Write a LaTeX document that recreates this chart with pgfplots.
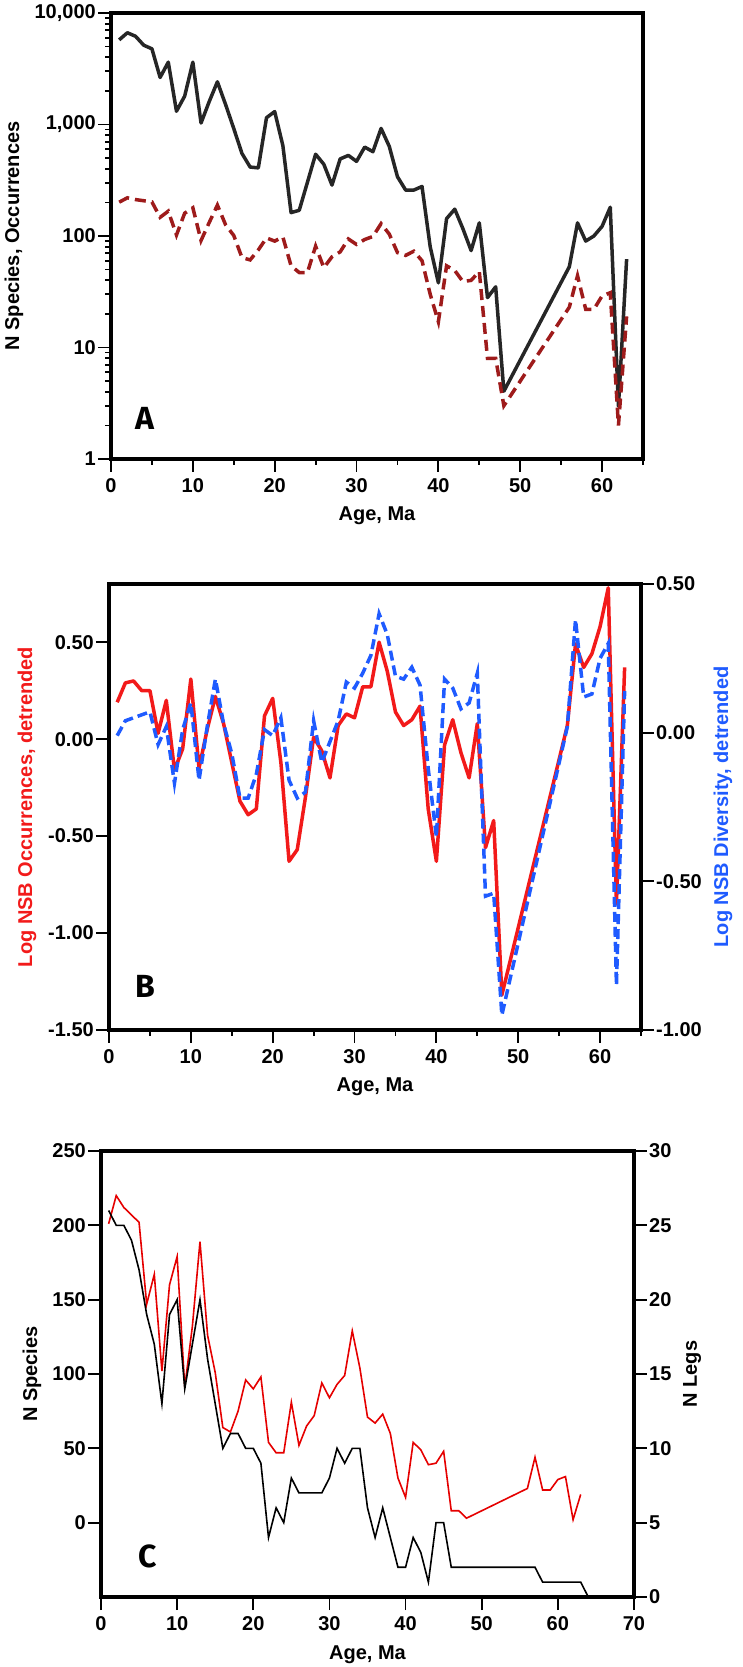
\documentclass[border=0pt]{standalone}
\usepackage{fontspec}
\setmainfont{Liberation Sans}
\newfontfamily\letterfont{Fira Sans}
\usepackage{pgfplots}
\usepackage{pgfplotstable}
\pgfplotsset{compat=1.18}
\definecolor{darkred}{HTML}{9E1B1B}
\definecolor{occred}{HTML}{F21A1A}
\definecolor{divblue}{HTML}{1F5BFF}
\definecolor{lineblack}{HTML}{262626}

\pgfplotstableread{
x y
1 5740
2 6650
3 6180
4 5140
5 4770
6 2640
7 3620
8 1315
9 1795
10 3620
11 1030
12 1605
13 2415
14 1510
15 920
16 550
17 415
18 408
19 1150
20 1305
21 646
22 162
23 170
24 303
25 541
26 440
27 286
28 491
29 528
30 467
31 627
32 570
33 922
34 636
35 340
36 258
37 258
38 278
39 80
40 38
41 143
42 174
43 116
44 74
45 131
46 28
47 35
48 4.05
56 53
57 131
58 90
59 100
60 122
61 181
62 2.97
63 62
}\occ

\pgfplotstableread{
x y
1 201
2 220
3 212
4 207
5 202
6 147
7 167
8 102
9 160
10 179
11 91
12 132
13 189
14 126
15 101
16 64
17 61
18 75
19 96
20 90
21 98
22 54
23 47
24 47
25 81
26 52
27 65
28 72
29 94
30 84
31 93
32 99
33 129
34 104
35 71
36 67
37 73
38 60
39 30
40 17
41 54
42 49
43 39
44 40
45 48
46 8
47 8
48 3
56 23
57 44
58 22
59 22
60 29
61 31
62 2
63 19
}\species

\pgfplotstableread{
x y
1 0.19
2 0.29
3 0.30
4 0.25
5 0.25
6 0.03
7 0.20
8 -0.16
9 -0.05
10 0.31
11 -0.15
12 0.05
13 0.22
14 0.08
15 -0.12
16 -0.32
17 -0.39
18 -0.36
19 0.12
20 0.21
21 -0.12
22 -0.63
23 -0.57
24 -0.30
25 0.01
26 -0.06
27 -0.20
28 0.07
29 0.13
30 0.11
31 0.27
32 0.27
33 0.50
34 0.35
35 0.14
36 0.07
37 0.10
38 0.17
39 -0.36
40 -0.63
41 -0.03
42 0.10
43 -0.07
44 -0.20
45 0.08
46 -0.56
47 -0.42
48 -1.32
56 0.07
57 0.49
58 0.37
59 0.44
60 0.58
61 0.78
62 -0.85
63 0.37
}\detocc

\pgfplotstableread{
x y
1 -0.01
2 0.04
3 0.05
4 0.06
5 0.07
6 -0.04
7 0.02
8 -0.17
9 0.01
10 0.10
11 -0.16
12 0.02
13 0.18
14 0.03
15 -0.07
16 -0.22
17 -0.22
18 -0.14
19 0.01
20 -0.01
21 0.05
22 -0.16
23 -0.22
24 -0.20
25 0.04
26 -0.10
27 -0.03
28 0.04
29 0.17
30 0.15
31 0.20
32 0.26
33 0.40
34 0.33
35 0.19
36 0.18
37 0.22
38 0.16
39 -0.12
40 -0.35
41 0.18
42 0.15
43 0.08
44 0.10
45 0.20
46 -0.55
47 -0.54
48 -0.95
56 0.02
57 0.38
58 0.12
59 0.13
60 0.25
61 0.30
62 -0.85
63 0.14
}\detdiv

\pgfplotstableread{
x y
1 26
2 25
3 25
4 24
5 22
6 19
7 17
8 13
9 19
10 20
11 14
12 17
13 20
14 16
15 13
16 10
17 11
18 11
19 10
20 10
21 9
22 4
23 6
24 5
25 8
26 7
27 7
28 7
29 7
30 8
31 10
32 9
33 10
34 10
35 6
36 4
37 6
38 4
39 2
40 2
41 4
42 3
43 1
44 5
45 5
46 2
47 2
57 2
58 1
63 1
64 0
}\legs

\tikzset{letter/.style={font=\letterfont\bfseries\fontsize{32}{34}\selectfont}}
\pgfplotsset{
  base/.style={
    scale only axis, width=532pt, height=446pt,
    axis line style={line width=4pt},
    every tick/.style={black, line width=1.8pt},
    major tick length=13pt, minor tick length=6pt,
    tick align=outside,
    tick label style={font=\fontsize{20}{24}\selectfont\bfseries},
    label style={font=\fontsize{20}{24}\selectfont\bfseries},
    xlabel style={at={([yshift=-62pt]axis description cs:0.5,0)}, anchor=base},
    xticklabel style={inner sep=1pt, yshift=-5pt},
    yticklabel style={inner sep=2pt},
  },
}

\begin{document}
\begin{tikzpicture}
\useasboundingbox (0,0) rectangle (742pt,1667pt);

% ---------------- Panel A
\begin{axis}[base, at={(111pt,1208pt)}, anchor=south west,
  xmin=0, xmax=65, ymode=log, ymin=1, ymax=10000,
  xtick={0,10,...,60}, xticklabels={0,10,20,30,40,50,60},
  minor xtick={5,15,...,65},
  ytick={1,10,100,1000,10000}, yticklabels={1,10,100,{1,000},{10,000}},
  minor ytick={2,3,4,5,6,7,8,9,20,30,40,50,60,70,80,90,200,300,400,500,600,700,800,900,2000,3000,4000,5000,6000,7000,8000,9000},
  xtick pos=bottom, ytick pos=left,
  xlabel={Age, Ma},
  ylabel={N Species, Occurrences},
  ylabel style={at={([xshift=-97pt]axis description cs:0,0.5)}, anchor=center},
]
\addplot[lineblack, line width=3.5pt, line join=round] table[x=x,y=y]{\occ};
\addplot[darkred, line width=3.5pt, dash pattern=on 11pt off 6pt] table[x=x,y=y]{\species};
\node[letter] at (rel axis cs:0.064,0.09) {A};
\end{axis}

% ---------------- Panel B
\begin{axis}[base, at={(109pt,637pt)}, anchor=south west,
  xmin=0, xmax=65, ymin=-1.5, ymax=0.8,
  xtick={0,10,...,60}, xticklabels={0,10,20,30,40,50,60},
  minor xtick={5,15,...,65},
  ytick={-1.5,-1,-0.5,0,0.5}, yticklabels={-1.50,-1.00,-0.50,0.00,0.50},
  xtick pos=bottom, ytick pos=left,
  xlabel={Age, Ma},
  ylabel={Log NSB Occurrences, detrended},
  ylabel style={at={([xshift=-82pt]axis description cs:0,0.5)}, anchor=center, text=occred},
]
\addplot[occred, line width=3.5pt, line join=round] table[x=x,y=y]{\detocc};
\node[letter] at (rel axis cs:0.068,0.098) {B};
\end{axis}
\begin{axis}[base, at={(109pt,637pt)}, anchor=south west,
  xmin=0, xmax=65, ymin=-1, ymax=0.5,
  axis y line*=right, axis x line=none,
  ytick={-1,-0.5,0,0.5}, yticklabels={-1.00,-0.50,0.00,0.50},
  ylabel={Log NSB Diversity, detrended},
  ylabel style={at={([xshift=82pt]axis description cs:1,0.5)}, anchor=center, text=divblue},
]
\addplot[divblue, line width=3.5pt, dash pattern=on 10pt off 5pt] table[x=x,y=y]{\detdiv};
\end{axis}

% ---------------- Panel C
\begin{axis}[base, width=533pt, at={(101pt,70pt)}, anchor=south west,
  xmin=0, xmax=70, ymin=-50, ymax=250,
  xtick={0,10,...,70}, xticklabels={0,10,20,30,40,50,60,70},
  ytick={0,50,...,250}, yticklabels={0,50,100,150,200,250},
  xtick pos=bottom, ytick pos=left,
  xlabel={Age, Ma},
  ylabel={N Species},
  ylabel style={at={([xshift=-69pt]axis description cs:0,0.5)}, anchor=center},
]
\addplot[red!90!black, line width=1.6pt] table[x=x,y=y]{\species};
\node[letter] at (rel axis cs:0.087,0.092) {C};
\end{axis}
\begin{axis}[base, width=533pt, at={(101pt,70pt)}, anchor=south west,
  xmin=0, xmax=70, ymin=0, ymax=30,
  axis y line*=right, axis x line=none,
  ytick={0,5,...,30}, yticklabels={0,5,10,15,20,25,30},
  ylabel={N Legs},
  ylabel style={at={([xshift=58pt]axis description cs:1,0.5)}, anchor=center},
]
\addplot[black, line width=1.6pt] table[x=x,y=y]{\legs};
\end{axis}
\end{tikzpicture}
\end{document}
